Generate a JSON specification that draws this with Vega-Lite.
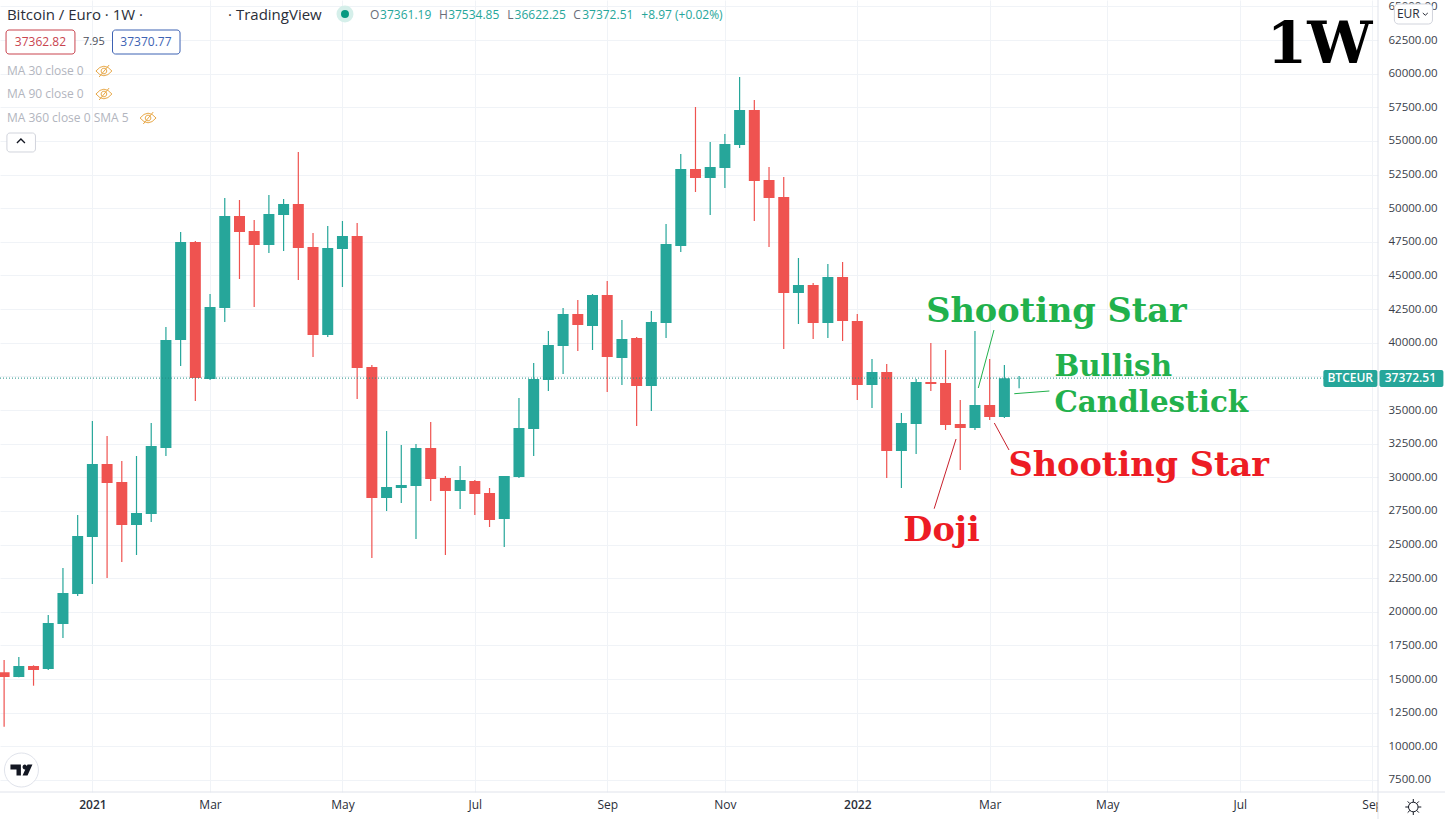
{
"$schema":"https://vega.github.io/schema/vega-lite/v6.json",
"width":1378,"height":792,
"autosize":{"type":"none"},
"padding":{"left":0,"top":0,"right":67,"bottom":27},
"background":"#ffffff",
"config":{"view":{"stroke":null},"font":"Open Sans"},
"datasets":{
"candles":[
{"date":"2020-11-23","open":15505,"high":16419,"low":11461,"close":15156},
{"date":"2020-11-30","open":15156,"high":16642,"low":15130,"close":15973},
{"date":"2020-12-07","open":15973,"high":16025,"low":14509,"close":15676},
{"date":"2020-12-14","open":15750,"high":19764,"low":15676,"close":19169},
{"date":"2020-12-21","open":19095,"high":23258,"low":18054,"close":21399},
{"date":"2020-12-28","open":21325,"high":27197,"low":21176,"close":25636},
{"date":"2021-01-04","open":25562,"high":34184,"low":22068,"close":30988},
{"date":"2021-01-11","open":30988,"high":33069,"low":22514,"close":29576},
{"date":"2021-01-18","open":29650,"high":31211,"low":23704,"close":26454},
{"date":"2021-01-25","open":26454,"high":31583,"low":24224,"close":27346},
{"date":"2021-02-01","open":27271,"high":34035,"low":26677,"close":32326},
{"date":"2021-02-08","open":32177,"high":41171,"low":31583,"close":40205},
{"date":"2021-02-15","open":40205,"high":48232,"low":38272,"close":47489},
{"date":"2021-02-22","open":47489,"high":47563,"low":35671,"close":37380},
{"date":"2021-03-01","open":37306,"high":43624,"low":37232,"close":42658},
{"date":"2021-03-08","open":42583,"high":50760,"low":41543,"close":49422},
{"date":"2021-03-15","open":49422,"high":50611,"low":44739,"close":48232},
{"date":"2021-03-22","open":48307,"high":49124,"low":42658,"close":47266},
{"date":"2021-03-29","open":47266,"high":50983,"low":46672,"close":49570},
{"date":"2021-04-05","open":49496,"high":50685,"low":46820,"close":50314},
{"date":"2021-04-12","open":50314,"high":54179,"low":44665,"close":47043},
{"date":"2021-04-19","open":47117,"high":48158,"low":38941,"close":40576},
{"date":"2021-04-26","open":40576,"high":48678,"low":40428,"close":47043},
{"date":"2021-05-03","open":46969,"high":49050,"low":44144,"close":47935},
{"date":"2021-05-10","open":47935,"high":48901,"low":35819,"close":38124},
{"date":"2021-05-17","open":38198,"high":38347,"low":24001,"close":28461},
{"date":"2021-05-24","open":28461,"high":33441,"low":27494,"close":29278},
{"date":"2021-05-31","open":29204,"high":32400,"low":28089,"close":29427},
{"date":"2021-06-07","open":29353,"high":32474,"low":25413,"close":32177},
{"date":"2021-06-14","open":32177,"high":34110,"low":28238,"close":29873},
{"date":"2021-06-21","open":29947,"high":30096,"low":24224,"close":28981},
{"date":"2021-06-28","open":28981,"high":30839,"low":27643,"close":29799},
{"date":"2021-07-05","open":29724,"high":29799,"low":27197,"close":28758},
{"date":"2021-07-12","open":28832,"high":29204,"low":26305,"close":26825},
{"date":"2021-07-19","open":26900,"high":30096,"low":24818,"close":30096},
{"date":"2021-07-26","open":30022,"high":35894,"low":29947,"close":33664},
{"date":"2021-08-02","open":33589,"high":38495,"low":31583,"close":37306},
{"date":"2021-08-09","open":37232,"high":40874,"low":36414,"close":39833},
{"date":"2021-08-16","open":39759,"high":42583,"low":37678,"close":42137},
{"date":"2021-08-23","open":42137,"high":43178,"low":39387,"close":41320},
{"date":"2021-08-30","open":41245,"high":43624,"low":39461,"close":43550},
{"date":"2021-09-06","open":43550,"high":44590,"low":36340,"close":38941},
{"date":"2021-09-13","open":38867,"high":41691,"low":36860,"close":40279},
{"date":"2021-09-20","open":40353,"high":40428,"low":33812,"close":36786},
{"date":"2021-09-27","open":36786,"high":42360,"low":34927,"close":41543},
{"date":"2021-10-04","open":41468,"high":48827,"low":40353,"close":47340},
{"date":"2021-10-11","open":47192,"high":54030,"low":46746,"close":52915},
{"date":"2021-10-18","open":52915,"high":57524,"low":51206,"close":52246},
{"date":"2021-10-25","open":52246,"high":54922,"low":49496,"close":53064},
{"date":"2021-11-01","open":52990,"high":55517,"low":51503,"close":54773},
{"date":"2021-11-08","open":54699,"high":59754,"low":54476,"close":57301},
{"date":"2021-11-15","open":57301,"high":58044,"low":49050,"close":52023},
{"date":"2021-11-22","open":52098,"high":53064,"low":47117,"close":50760},
{"date":"2021-11-29","open":50834,"high":52321,"low":39536,"close":43698},
{"date":"2021-12-06","open":43698,"high":46300,"low":41394,"close":44293},
{"date":"2021-12-13","open":44293,"high":44442,"low":40279,"close":41468},
{"date":"2021-12-20","open":41468,"high":45854,"low":40353,"close":44888},
{"date":"2021-12-27","open":44888,"high":46003,"low":40130,"close":41617},
{"date":"2022-01-03","open":41617,"high":42137,"low":35745,"close":36860},
{"date":"2022-01-10","open":36860,"high":38793,"low":35150,"close":37826},
{"date":"2022-01-17","open":37826,"high":38421,"low":29947,"close":31954},
{"date":"2022-01-24","open":31954,"high":34779,"low":29204,"close":34035},
{"date":"2022-01-31","open":33961,"high":37306,"low":31731,"close":37083},
{"date":"2022-02-07","open":37083,"high":39982,"low":36414,"close":36934},
{"date":"2022-02-14","open":37009,"high":39461,"low":33515,"close":33887},
{"date":"2022-02-21","open":33961,"high":35745,"low":30542,"close":33664},
{"date":"2022-02-28","open":33664,"high":40874,"low":33515,"close":35373},
{"date":"2022-03-07","open":35373,"high":38793,"low":34258,"close":34481},
{"date":"2022-03-14","open":34481,"high":38347,"low":34407,"close":37361},
{"date":"2022-03-21","open":37361.19,"high":37534.85,"low":36622.25,"close":37372.51}
],
"lastPrice":[{"x":"2020-11-21T01:00Z","x2":"2022-09-07T12:00Z","price":37372.51}],
"frame":[
{"x":"2020-11-21T01:00Z","x2":"2022-10-09T22:00Z","price":6608,"price2":6608},
{"x":"2022-09-07T19:00Z","x2":"2022-09-07T19:00Z","price":65477,"price2":4600}
],
"cover":[{"x":"2022-09-07T19:00Z","x2":"2022-10-09T22:00Z","price":6608,"price2":4600}],
"tagBoxes":[
{"x":"2022-08-12T19:00Z","x2":"2022-09-07T12:00Z","price":37975,"price2":36711},
{"x":"2022-09-08T12:00Z","x2":"2022-10-08T22:00Z","price":37975,"price2":36711}
],
"tagText":[
{"x":"2022-08-25T14:00Z","price":37372.51,"label":"BTCEUR"},
{"x":"2022-09-23T05:00Z","price":37372.51,"label":"37372.51"}
],
"greenLines":[
{"x":"2022-03-09T01:00Z","x2":"2022-03-01T14:00Z","price":40948,"price2":36637},
{"x":"2022-03-18T17:00Z","x2":"2022-04-04T10:00Z","price":36213,"price2":36414}
],
"redLines":[
{"x":"2022-02-19T00:00Z","x2":"2022-02-08T14:00Z","price":32846,"price2":27665},
{"x":"2022-03-09T05:00Z","x2":"2022-03-16T05:00Z","price":34035,"price2":32028}
],
"greenNotes":[
{"x":"2022-02-04T19:00Z","price":42286,"label":"Shooting Star"}
],
"greenNotesSmall":[
{"x":"2022-04-06T19:00Z","price":38198,"label":"Bullish"},
{"x":"2022-04-06T19:00Z","price":35522,"label":"Candlestick"}
],
"redNotes":[
{"x":"2022-03-15T22:00Z","price":30839,"label":"Shooting Star"},
{"x":"2022-01-24T22:00Z","price":26007,"label":"Doji"}
],
"timeframe":[{"x":"2022-09-05T02:00Z","price":62058,"label":"1W"}],
"header":[
{"x":"2020-11-24T08:00Z","price":64362,"label":"Bitcoin / Euro · 1W ·"},
{"x":"2021-03-09T14:00Z","price":64362,"label":"· TradingView"}
],
"ohlcLetters":[
{"x":"2021-05-16T02:00Z","price":64362,"label":"O"},
{"x":"2021-06-18T00:00Z","price":64362,"label":"H"},
{"x":"2021-07-20T10:00Z","price":64362,"label":"L"},
{"x":"2021-08-20T19:00Z","price":64362,"label":"C"}
],
"ohlcValues":[
{"x":"2021-05-20T22:00Z","price":64362,"label":"37361.19"},
{"x":"2021-06-22T07:00Z","price":64362,"label":"37534.85"},
{"x":"2021-07-23T22:00Z","price":64362,"label":"36622.25"},
{"x":"2021-08-25T02:00Z","price":64362,"label":"37372.51"},
{"x":"2021-09-22T05:00Z","price":64362,"label":"+8.97 (+0.02%)"}
],
"statusDot":[{"x":"2021-05-04T05:00Z","price":64436}],
"bidBox":[{"x":"2020-11-23T22:00Z","x2":"2020-12-26T17:00Z","price":63247,"price2":61463}],
"askBox":[{"x":"2021-01-13T14:00Z","x2":"2021-02-14T17:00Z","price":63247,"price2":61463}],
"bidText":[{"x":"2020-12-10T07:00Z","price":62355,"label":"37362.82"}],
"askText":[{"x":"2021-01-29T12:00Z","price":62355,"label":"37370.77"}],
"spreadText":[{"x":"2020-12-30T12:00Z","price":62355,"label":"7.95"}],
"maText":[
{"x":"2020-11-24T08:00Z","price":60200,"label":"MA 30 close 0"},
{"x":"2020-11-24T08:00Z","price":58490,"label":"MA 90 close 0"},
{"x":"2020-11-24T08:00Z","price":56706,"label":"MA 360 close 0 SMA 5"}
],
"eyes":[
{"x":"2021-01-09T12:00Z","price":60200},
{"x":"2021-01-09T12:00Z","price":58490},
{"x":"2021-01-30T12:00Z","price":56706}
],
"collapseBox":[{"x":"2020-11-24T08:00Z","x2":"2020-12-07T22:00Z","price":55591,"price2":54179}],
"collapseIcon":[{"x":"2020-12-01T00:00Z","price":54996}],
"currencyBox":[{"x":"2022-09-15T14:00Z","x2":"2022-10-03T17:00Z","price":65180,"price2":63693}],
"currencyText":[{"x":"2022-09-22T05:00Z","price":64436,"label":"EUR"}],
"currencyIcon":[{"x":"2022-09-30T07:00Z","price":64436}],
"logoBadge":[{"x":"2020-12-01T06:00Z","price":8243}],
"settings":[{"x":"2022-09-24T14:00Z","price":5493}]
},
"layer":[
{"data":{"name":"candles"},"mark":{"type":"rule","strokeWidth":1.2},
"encoding":{
"x":{"field":"date","type":"temporal","title":null,
"scale":{"type":"utc","padding":0,"domain":[{"year":2020,"month":11,"date":21,"hours":1,"utc":true},{"year":2022,"month":9,"date":7,"hours":19,"utc":true}]},
"axis":{"orient":"bottom","grid":true,"gridColor":"#f0f3f7","gridWidth":1,"domain":false,"ticks":false,"labelPadding":7,"labelFontSize":12,"labelColor":"#2a2e39","labelOverlap":false,"labelFlush":false,"labelFont":"Open Sans",
"labelFontWeight":{"condition":{"test":"utcmonth(datum.value)===0","value":600},"value":400},
"values":[{"year":2021,"month":1,"date":4,"utc":true},{"year":2021,"month":3,"date":1,"utc":true},{"year":2021,"month":5,"date":3,"utc":true},{"year":2021,"month":7,"date":5,"utc":true},{"year":2021,"month":9,"date":6,"utc":true},{"year":2021,"month":11,"date":1,"utc":true},{"year":2022,"month":1,"date":3,"utc":true},{"year":2022,"month":3,"date":7,"utc":true},{"year":2022,"month":5,"date":2,"utc":true},{"year":2022,"month":7,"date":4,"utc":true},{"year":2022,"month":9,"date":5,"utc":true}],
"labelExpr":"utcmonth(datum.value)===0 ? utcFormat(datum.value,'%Y') : utcFormat(datum.value,'%b')"}},
"y":{"field":"low","type":"quantitative","title":null,
"scale":{"domain":[6608,65477],"nice":false,"zero":false,"padding":0},
"axis":{"orient":"right","grid":true,"gridColor":"#f0f3f7","gridWidth":1,"domain":false,"ticks":false,"labelPadding":10,"labelFontSize":11.5,"labelColor":"#3a3e49","format":".2f","labelOverlap":false,"labelFlush":false,"labelFont":"Open Sans","tickCount":40,
"values":[7500,10000,12500,15000,17500,20000,22500,25000,27500,30000,32500,35000,37500,40000,42500,45000,47500,50000,52500,55000,57500,60000,62500,65000]}},
"y2":{"field":"high"},
"color":{"condition":{"test":"datum.close >= datum.open","value":"#26a69a"},"value":"#ef5350"}}},
{"data":{"name":"candles"},"mark":{"type":"bar","size":11},
"encoding":{"x":{"field":"date","type":"temporal"},
"y":{"field":"open","type":"quantitative"},"y2":{"field":"close"},
"color":{"condition":{"test":"datum.close >= datum.open","value":"#26a69a"},"value":"#ef5350"}}},
{"data":{"name":"lastPrice"},"mark":{"type":"rule","stroke":"#1f8f85","strokeWidth":1,"strokeDash":[1,2]},
"encoding":{"x":{"field":"x","type":"temporal"},"x2":{"field":"x2"},"y":{"field":"price","type":"quantitative"}}},
{"data":{"name":"cover"},"mark":{"type":"rect","fill":"#ffffff"},
"encoding":{"x":{"field":"x","type":"temporal"},"x2":{"field":"x2"},"y":{"field":"price","type":"quantitative"},"y2":{"field":"price2"}}},
{"data":{"name":"frame"},"mark":{"type":"rule","stroke":"#e0e3eb","strokeWidth":1},
"encoding":{"x":{"field":"x","type":"temporal"},"x2":{"field":"x2"},"y":{"field":"price","type":"quantitative"},"y2":{"field":"price2"}}},
{"data":{"name":"tagBoxes"},"mark":{"type":"rect","fill":"#26a69a","cornerRadius":2},
"encoding":{"x":{"field":"x","type":"temporal"},"x2":{"field":"x2"},"y":{"field":"price","type":"quantitative"},"y2":{"field":"price2"}}},
{"data":{"name":"tagText"},"mark":{"type":"text","align":"center","baseline":"middle","color":"#ffffff","fontSize":12,"fontWeight":600,"font":"Open Sans"},
"encoding":{"x":{"field":"x","type":"temporal"},"y":{"field":"price","type":"quantitative"},"text":{"field":"label"}}},
{"data":{"name":"greenLines"},"mark":{"type":"rule","stroke":"#22b14c","strokeWidth":1},
"encoding":{"x":{"field":"x","type":"temporal"},"x2":{"field":"x2"},"y":{"field":"price","type":"quantitative"},"y2":{"field":"price2"}}},
{"data":{"name":"redLines"},"mark":{"type":"rule","stroke":"#c8202c","strokeWidth":1},
"encoding":{"x":{"field":"x","type":"temporal"},"x2":{"field":"x2"},"y":{"field":"price","type":"quantitative"},"y2":{"field":"price2"}}},
{"data":{"name":"greenNotes"},"mark":{"type":"text","align":"left","baseline":"middle","color":"#22b14c","fontSize":33.6,"fontWeight":"bold","font":"DejaVu Serif"},
"encoding":{"x":{"field":"x","type":"temporal"},"y":{"field":"price","type":"quantitative"},"text":{"field":"label"}}},
{"data":{"name":"greenNotesSmall"},"mark":{"type":"text","align":"left","baseline":"middle","color":"#22b14c","fontSize":29.4,"fontWeight":"bold","font":"DejaVu Serif"},
"encoding":{"x":{"field":"x","type":"temporal"},"y":{"field":"price","type":"quantitative"},"text":{"field":"label"}}},
{"data":{"name":"redNotes"},"mark":{"type":"text","align":"left","baseline":"middle","color":"#ed1c24","fontSize":33.6,"fontWeight":"bold","font":"DejaVu Serif"},
"encoding":{"x":{"field":"x","type":"temporal"},"y":{"field":"price","type":"quantitative"},"text":{"field":"label"}}},
{"data":{"name":"timeframe"},"mark":{"type":"text","align":"right","baseline":"middle","color":"#000000","fontSize":58,"fontWeight":"bold","font":"DejaVu Serif"},
"encoding":{"x":{"field":"x","type":"temporal"},"y":{"field":"price","type":"quantitative"},"text":{"field":"label"}}},
{"data":{"name":"header"},"mark":{"type":"text","align":"left","baseline":"middle","color":"#2a2e39","fontSize":15,"font":"Open Sans"},
"encoding":{"x":{"field":"x","type":"temporal"},"y":{"field":"price","type":"quantitative"},"text":{"field":"label"}}},
{"data":{"name":"ohlcLetters"},"mark":{"type":"text","align":"left","baseline":"middle","color":"#6a6d78","fontSize":12,"font":"Open Sans"},
"encoding":{"x":{"field":"x","type":"temporal"},"y":{"field":"price","type":"quantitative"},"text":{"field":"label"}}},
{"data":{"name":"ohlcValues"},"mark":{"type":"text","align":"left","baseline":"middle","color":"#26a69a","fontSize":12,"font":"Open Sans"},
"encoding":{"x":{"field":"x","type":"temporal"},"y":{"field":"price","type":"quantitative"},"text":{"field":"label"}}},
{"data":{"name":"statusDot"},"mark":{"type":"point","shape":"circle","filled":true,"fill":"#d5efea","opacity":1,"size":289},
"encoding":{"x":{"field":"x","type":"temporal"},"y":{"field":"price","type":"quantitative"}}},
{"data":{"name":"statusDot"},"mark":{"type":"point","shape":"circle","filled":true,"fill":"#089981","opacity":1,"size":64},
"encoding":{"x":{"field":"x","type":"temporal"},"y":{"field":"price","type":"quantitative"}}},
{"data":{"name":"bidBox"},"mark":{"type":"rect","fill":"#ffffff","stroke":"#c9444f","strokeWidth":1,"cornerRadius":3},
"encoding":{"x":{"field":"x","type":"temporal"},"x2":{"field":"x2"},"y":{"field":"price","type":"quantitative"},"y2":{"field":"price2"}}},
{"data":{"name":"askBox"},"mark":{"type":"rect","fill":"#ffffff","stroke":"#3d62b3","strokeWidth":1,"cornerRadius":3},
"encoding":{"x":{"field":"x","type":"temporal"},"x2":{"field":"x2"},"y":{"field":"price","type":"quantitative"},"y2":{"field":"price2"}}},
{"data":{"name":"bidText"},"mark":{"type":"text","align":"center","baseline":"middle","color":"#c9444f","fontSize":12,"font":"Open Sans"},
"encoding":{"x":{"field":"x","type":"temporal"},"y":{"field":"price","type":"quantitative"},"text":{"field":"label"}}},
{"data":{"name":"askText"},"mark":{"type":"text","align":"center","baseline":"middle","color":"#3d62b3","fontSize":12,"font":"Open Sans"},
"encoding":{"x":{"field":"x","type":"temporal"},"y":{"field":"price","type":"quantitative"},"text":{"field":"label"}}},
{"data":{"name":"spreadText"},"mark":{"type":"text","align":"left","baseline":"middle","color":"#4a4e59","fontSize":11,"font":"Open Sans"},
"encoding":{"x":{"field":"x","type":"temporal"},"y":{"field":"price","type":"quantitative"},"text":{"field":"label"}}},
{"data":{"name":"maText"},"mark":{"type":"text","align":"left","baseline":"middle","color":"#b2b5be","fontSize":12,"font":"Open Sans"},
"encoding":{"x":{"field":"x","type":"temporal"},"y":{"field":"price","type":"quantitative"},"text":{"field":"label"}}},
{"data":{"name":"eyes"},"mark":{"type":"point","filled":false,"stroke":"#e8a94a","strokeWidth":1,"opacity":1,"size":256,"shape":"M-1,0 Q0,-1.2 1,0 Q0,1.2 -1,0 Z M-0.35,0 A0.35,0.35 0 1,1 0.35,0 A0.35,0.35 0 1,1 -0.35,0 Z M-0.6,0.75 L0.65,-0.75"},
"encoding":{"x":{"field":"x","type":"temporal"},"y":{"field":"price","type":"quantitative"}}},
{"data":{"name":"collapseBox"},"mark":{"type":"rect","fill":"#ffffff","stroke":"#d1d4dc","strokeWidth":1,"cornerRadius":3},
"encoding":{"x":{"field":"x","type":"temporal"},"x2":{"field":"x2"},"y":{"field":"price","type":"quantitative"},"y2":{"field":"price2"}}},
{"data":{"name":"collapseIcon"},"mark":{"type":"point","filled":false,"stroke":"#131722","strokeWidth":1.3,"opacity":1,"size":64,"shape":"M-1,0.5 L0,-0.5 L1,0.5"},
"encoding":{"x":{"field":"x","type":"temporal"},"y":{"field":"price","type":"quantitative"}}},
{"data":{"name":"currencyBox"},"mark":{"type":"rect","fill":"#ffffff","stroke":"#d1d4dc","strokeWidth":1,"cornerRadius":4},
"encoding":{"x":{"field":"x","type":"temporal"},"x2":{"field":"x2"},"y":{"field":"price","type":"quantitative"},"y2":{"field":"price2"}}},
{"data":{"name":"currencyText"},"mark":{"type":"text","align":"center","baseline":"middle","color":"#2a2e39","fontSize":12,"font":"Open Sans"},
"encoding":{"x":{"field":"x","type":"temporal"},"y":{"field":"price","type":"quantitative"},"text":{"field":"label"}}},
{"data":{"name":"currencyIcon"},"mark":{"type":"point","filled":false,"stroke":"#2a2e39","strokeWidth":1,"opacity":1,"size":25,"shape":"M-1,-0.4 L0,0.5 L1,-0.4"},
"encoding":{"x":{"field":"x","type":"temporal"},"y":{"field":"price","type":"quantitative"}}},
{"data":{"name":"logoBadge"},"mark":{"type":"point","shape":"circle","filled":true,"fill":"#ffffff","stroke":"#e0e3eb","strokeWidth":1,"opacity":1,"size":1156},
"encoding":{"x":{"field":"x","type":"temporal"},"y":{"field":"price","type":"quantitative"}}},
{"data":{"name":"logoBadge"},"mark":{"type":"point","filled":true,"fill":"#131722","opacity":1,"size":484,"strokeWidth":0,"shape":"M-1,-0.5 H-0.05 V0.5 H-0.45 V-0.05 H-1 Z M0.1,-0.27 A0.2,0.22 0 1,1 0.5,-0.27 A0.2,0.22 0 1,1 0.1,-0.27 Z M0.55,-0.5 H1 L0.55,0.5 H0.1 Z"},
"encoding":{"x":{"field":"x","type":"temporal"},"y":{"field":"price","type":"quantitative"}}},
{"data":{"name":"settings"},"mark":{"type":"point","filled":false,"stroke":"#131722","strokeWidth":1,"opacity":1,"size":256,"shape":"M-0.6,0 A0.6,0.6 0 1,1 0.6,0 A0.6,0.6 0 1,1 -0.6,0 Z M0,-1 V-0.6 M0,0.6 V1 M-1,0 H-0.6 M0.6,0 H1 M-0.7,-0.7 L-0.42,-0.42 M0.7,-0.7 L0.42,-0.42 M-0.7,0.7 L-0.42,0.42 M0.7,0.7 L0.42,0.42"},
"encoding":{"x":{"field":"x","type":"temporal"},"y":{"field":"price","type":"quantitative"}}}
]
}
